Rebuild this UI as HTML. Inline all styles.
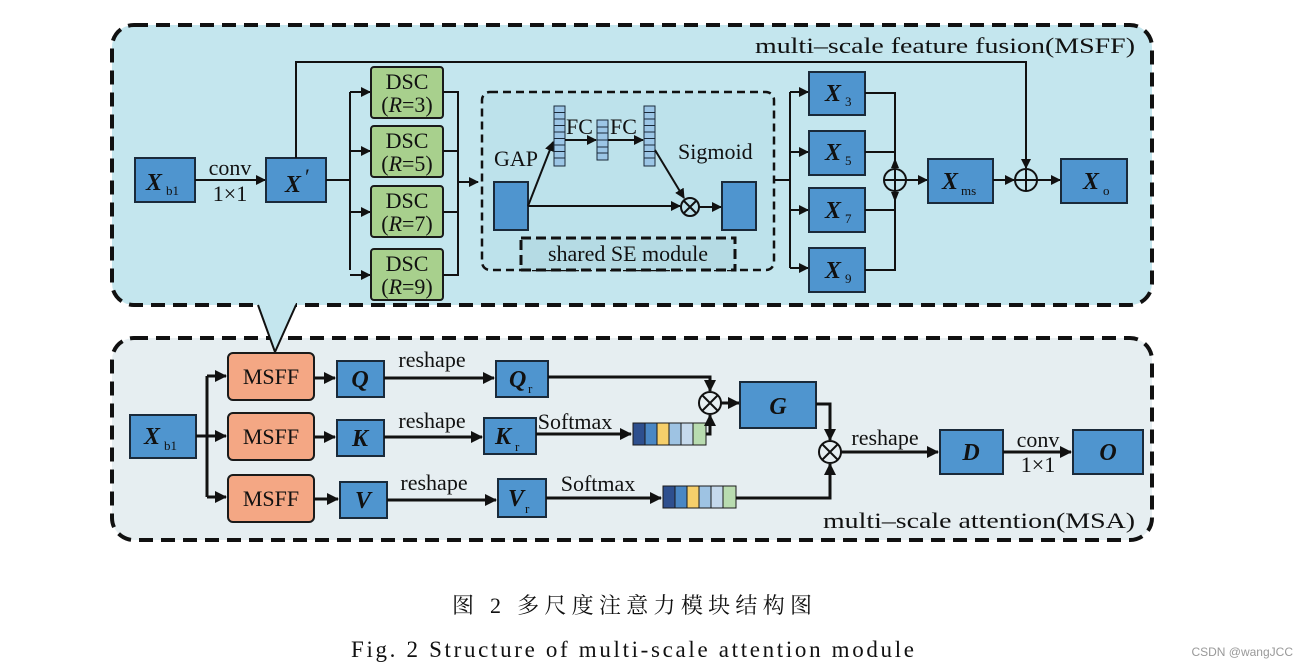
<!DOCTYPE html>
<html><head><meta charset="utf-8"><style>
html,body{margin:0;padding:0;background:#fff;width:1309px;height:669px;overflow:hidden}
svg{display:block}
text{font-family:"Liberation Serif",serif;fill:#111}
.lbl{font-size:22px}
.it{font-style:italic;font-weight:bold;font-size:24px}
.sub{font-size:13px}
.b{fill:#4f95cf;stroke:#1a2a3a;stroke-width:2}
.g{fill:#a8d08d;stroke:#1a1a1a;stroke-width:2}
.o{fill:#f4a784;stroke:#1a1a1a;stroke-width:2}
.l{fill:none;stroke:#111;stroke-width:2}
.l3{fill:none;stroke:#111;stroke-width:3}
</style></head><body>
<svg width="1309" height="669" viewBox="0 0 1309 669" xmlns="http://www.w3.org/2000/svg">
<defs>
<marker id="a" markerWidth="10" markerHeight="10" refX="9" refY="5" orient="auto" markerUnits="userSpaceOnUse"><path d="M0,0 L10,5 L0,10 Z" fill="#111"/></marker>
<marker id="a2" markerWidth="12" markerHeight="12" refX="11" refY="6" orient="auto" markerUnits="userSpaceOnUse"><path d="M0,0 L12,6 L0,12 Z" fill="#111"/></marker>
</defs>
<rect x="112" y="25" width="1040" height="280" rx="22" fill="#c4e6ee" stroke="#111" stroke-width="4" stroke-dasharray="14,8"/>
<rect x="112" y="338" width="1040" height="202" rx="22" fill="#e6eef1" stroke="#111" stroke-width="4" stroke-dasharray="14,8"/>
<polygon points="258,303 296,303 275,352" fill="#c4e6ee"/>
<path d="M258,305 L275,352 L296,305" class="l"/>
<text x="755" y="53" class="lbl" textLength="380" lengthAdjust="spacingAndGlyphs">multi–scale feature fusion(MSFF)</text>
<rect x="135" y="158" width="60" height="44" class="b"/>
<text x="146" y="190" class="it">X</text><text x="166" y="195" class="sub">b1</text>
<text x="230" y="175" class="lbl" text-anchor="middle">conv</text>
<text x="230" y="201" class="lbl" text-anchor="middle">1×1</text>
<line x1="195" y1="180" x2="265" y2="180" class="l" marker-end="url(#a)"/>
<rect x="266" y="158" width="60" height="44" class="b"/>
<text x="285" y="192" class="it">X</text><text x="305" y="184" class="lbl">′</text>
<path d="M296,158 V62 H1026 V168" class="l" marker-end="url(#a)"/>
<path d="M326,180 H350" class="l"/>
<path d="M350,92 V270" class="l"/>
<line x1="350" y1="92" x2="370" y2="92" class="l" marker-end="url(#a)"/>
<line x1="350" y1="151" x2="370" y2="151" class="l" marker-end="url(#a)"/>
<line x1="350" y1="212" x2="370" y2="212" class="l" marker-end="url(#a)"/>
<line x1="350" y1="275" x2="370" y2="275" class="l" marker-end="url(#a)"/>
<g>
<rect x="371" y="67" width="72" height="51" rx="3" class="g"/><text x="407" y="89" class="lbl" text-anchor="middle">DSC</text><text x="407" y="112" class="lbl" text-anchor="middle">(<tspan font-style="italic">R</tspan>=3)</text>
<rect x="371" y="126" width="72" height="51" rx="3" class="g"/><text x="407" y="148" class="lbl" text-anchor="middle">DSC</text><text x="407" y="171" class="lbl" text-anchor="middle">(<tspan font-style="italic">R</tspan>=5)</text>
<rect x="371" y="186" width="72" height="51" rx="3" class="g"/><text x="407" y="208" class="lbl" text-anchor="middle">DSC</text><text x="407" y="231" class="lbl" text-anchor="middle">(<tspan font-style="italic">R</tspan>=7)</text>
<rect x="371" y="249" width="72" height="51" rx="3" class="g"/><text x="407" y="271" class="lbl" text-anchor="middle">DSC</text><text x="407" y="294" class="lbl" text-anchor="middle">(<tspan font-style="italic">R</tspan>=9)</text>
</g>
<path d="M443,92 H458 V275 H443 M443,151 H458 M443,212 H458" class="l"/>
<line x1="458" y1="182" x2="478" y2="182" class="l" marker-end="url(#a)"/>
<rect x="482" y="92" width="292" height="178" rx="8" fill="#bde2eb" stroke="#111" stroke-width="2.5" stroke-dasharray="8,5"/>
<rect x="494" y="182" width="34" height="48" class="b"/>
<rect x="722" y="182" width="34" height="48" class="b"/>
<text x="494" y="166" class="lbl">GAP</text>
<text x="678" y="159" class="lbl">Sigmoid</text>
<line x1="528" y1="206" x2="553" y2="142" class="l" marker-end="url(#a)"/>
<line x1="528" y1="206" x2="680" y2="206" class="l" marker-end="url(#a)"/>
<g fill="#9cc6e6" stroke="#1a2a3a" stroke-width="1">
<rect x="554" y="106" width="11" height="60"/><rect x="597" y="120" width="11" height="40"/><rect x="644" y="106" width="11" height="60"/>
</g>
<g stroke="#1a2a3a" stroke-width="1">
<path d="M554,112.5H565M554,119H565M554,125.5H565M554,132H565M554,138.5H565M554,145H565M554,151.5H565M554,158H565"/>
<path d="M597,127H608M597,133H608M597,140H608M597,147H608M597,153H608"/>
<path d="M644,112.5H655M644,119H655M644,125.5H655M644,132H655M644,138.5H655M644,145H655M644,151.5H655M644,158H655"/>
</g>
<text x="566" y="134" class="lbl">FC</text><text x="610" y="134" class="lbl">FC</text>
<line x1="565" y1="140" x2="596" y2="140" class="l" marker-end="url(#a)"/>
<line x1="608" y1="140" x2="643" y2="140" class="l" marker-end="url(#a)"/>
<line x1="655" y1="150" x2="684" y2="198" class="l" marker-end="url(#a)"/>
<circle cx="690" cy="207" r="9" fill="none" stroke="#111" stroke-width="2"/>
<path d="M684,201 L696,213 M696,201 L684,213" stroke="#111" stroke-width="2"/>
<line x1="699" y1="207" x2="721" y2="207" class="l" marker-end="url(#a)"/>
<rect x="521" y="238" width="214" height="32" fill="#b5dbe4" stroke="#111" stroke-width="3" stroke-dasharray="10,5"/>
<text x="628" y="261" class="lbl" text-anchor="middle">shared SE module</text>
<path d="M774,180 H790 M790,92 V268" class="l"/>
<line x1="790" y1="92" x2="808" y2="92" class="l" marker-end="url(#a)"/>
<line x1="790" y1="152" x2="808" y2="152" class="l" marker-end="url(#a)"/>
<line x1="790" y1="210" x2="808" y2="210" class="l" marker-end="url(#a)"/>
<line x1="790" y1="268" x2="808" y2="268" class="l" marker-end="url(#a)"/>
<rect x="809" y="72" width="56" height="43" class="b"/><text x="825" y="101" class="it">X</text><text x="845" y="106" class="sub">3</text>
<rect x="809" y="131" width="56" height="44" class="b"/><text x="825" y="160" class="it">X</text><text x="845" y="165" class="sub">5</text>
<rect x="809" y="188" width="56" height="44" class="b"/><text x="825" y="218" class="it">X</text><text x="845" y="223" class="sub">7</text>
<rect x="809" y="248" width="56" height="44" class="b"/><text x="825" y="278" class="it">X</text><text x="845" y="283" class="sub">9</text>
<path d="M865,93 H895 V168 M865,152 H895 M865,210 H895 M865,270 H895 V192" class="l"/>
<path d="M895,158 L891,168 H899 Z M895,202 L891,192 H899 Z" fill="#111"/>
<circle cx="895" cy="180" r="11" fill="none" stroke="#111" stroke-width="2"/>
<path d="M884,180 H906 M895,169 V191" stroke="#111" stroke-width="2"/>
<line x1="906" y1="180" x2="927" y2="180" class="l" marker-end="url(#a)"/>
<rect x="928" y="159" width="65" height="44" class="b"/><text x="942" y="189" class="it">X</text><text x="961" y="195" class="sub">ms</text>
<line x1="993" y1="180" x2="1014" y2="180" class="l" marker-end="url(#a)"/>
<circle cx="1026" cy="180" r="11" fill="none" stroke="#111" stroke-width="2"/>
<path d="M1015,180 H1037 M1026,169 V191" stroke="#111" stroke-width="2"/>
<line x1="1037" y1="180" x2="1060" y2="180" class="l" marker-end="url(#a)"/>
<rect x="1061" y="159" width="66" height="44" class="b"/><text x="1083" y="189" class="it">X</text><text x="1103" y="195" class="sub">o</text>

<rect x="130" y="415" width="66" height="43" class="b"/><text x="144" y="444" class="it">X</text><text x="164" y="450" class="sub">b1</text>
<path d="M196,436 H207 M207,376 V497" class="l3"/>
<line x1="207" y1="376" x2="226" y2="376" class="l3" marker-end="url(#a2)"/>
<line x1="207" y1="436" x2="226" y2="436" class="l3" marker-end="url(#a2)"/>
<line x1="207" y1="497" x2="226" y2="497" class="l3" marker-end="url(#a2)"/>
<rect x="228" y="353" width="86" height="47" rx="5" class="o"/><text x="271" y="384" class="lbl" text-anchor="middle">MSFF</text>
<rect x="228" y="413" width="86" height="47" rx="5" class="o"/><text x="271" y="444" class="lbl" text-anchor="middle">MSFF</text>
<rect x="228" y="475" width="86" height="47" rx="5" class="o"/><text x="271" y="506" class="lbl" text-anchor="middle">MSFF</text>
<line x1="314" y1="378" x2="335" y2="378" class="l3" marker-end="url(#a2)"/>
<line x1="314" y1="437" x2="335" y2="437" class="l3" marker-end="url(#a2)"/>
<line x1="314" y1="499" x2="338" y2="499" class="l3" marker-end="url(#a2)"/>
<rect x="337" y="361" width="47" height="36" class="b"/><text x="360" y="387" class="it" text-anchor="middle">Q</text>
<rect x="337" y="420" width="47" height="36" class="b"/><text x="360" y="446" class="it" text-anchor="middle">K</text>
<rect x="340" y="482" width="47" height="36" class="b"/><text x="363" y="508" class="it" text-anchor="middle">V</text>
<text x="432" y="367" class="lbl" text-anchor="middle">reshape</text>
<text x="432" y="428" class="lbl" text-anchor="middle">reshape</text>
<text x="434" y="490" class="lbl" text-anchor="middle">reshape</text>
<line x1="384" y1="378" x2="494" y2="378" class="l3" marker-end="url(#a2)"/>
<line x1="384" y1="437" x2="482" y2="437" class="l3" marker-end="url(#a2)"/>
<line x1="387" y1="500" x2="496" y2="500" class="l3" marker-end="url(#a2)"/>
<rect x="496" y="361" width="52" height="36" class="b"/><text x="509" y="387" class="it">Q</text><text x="528" y="393" class="sub">r</text>
<rect x="484" y="418" width="52" height="36" class="b"/><text x="495" y="444" class="it">K</text><text x="515" y="451" class="sub">r</text>
<rect x="498" y="479" width="48" height="38" class="b"/><text x="508" y="506" class="it">V</text><text x="525" y="513" class="sub">r</text>
<text x="575" y="429" class="lbl" text-anchor="middle">Softmax</text>
<text x="598" y="491" class="lbl" text-anchor="middle">Softmax</text>
<line x1="536" y1="434" x2="631" y2="434" class="l3" marker-end="url(#a2)"/>
<line x1="546" y1="498" x2="661" y2="498" class="l3" marker-end="url(#a2)"/>
<g stroke="#1a1a1a" stroke-width="1">
<rect x="633" y="423" width="12" height="22" fill="#2e4f8e"/><rect x="645" y="423" width="12" height="22" fill="#4a87c4"/><rect x="657" y="423" width="12" height="22" fill="#f6cf6b"/><rect x="669" y="423" width="12" height="22" fill="#9ec3e3"/><rect x="681" y="423" width="12" height="22" fill="#c5d9ec"/><rect x="693" y="423" width="13" height="22" fill="#b9dcb0"/>
<rect x="663" y="486" width="12" height="22" fill="#2e4f8e"/><rect x="675" y="486" width="12" height="22" fill="#4a87c4"/><rect x="687" y="486" width="12" height="22" fill="#f6cf6b"/><rect x="699" y="486" width="12" height="22" fill="#9ec3e3"/><rect x="711" y="486" width="12" height="22" fill="#c5d9ec"/><rect x="723" y="486" width="13" height="22" fill="#b9dcb0"/>
</g>
<path d="M548,377 H710 V391" class="l3" marker-end="url(#a2)"/>
<path d="M706,434 H710 V415" class="l3" marker-end="url(#a2)"/>
<circle cx="710" cy="403" r="11" fill="#e6eef1" stroke="#111" stroke-width="2"/>
<path d="M702,395 L718,411 M718,395 L702,411" stroke="#111" stroke-width="2"/>
<line x1="721" y1="403" x2="739" y2="403" class="l3" marker-end="url(#a2)"/>
<rect x="740" y="382" width="76" height="46" class="b"/><text x="778" y="414" class="it" text-anchor="middle">G</text>
<path d="M816,404 H830 V440" class="l3" marker-end="url(#a2)"/>
<path d="M736,498 H830 V464" class="l3" marker-end="url(#a2)"/>
<circle cx="830" cy="452" r="11" fill="#e6eef1" stroke="#111" stroke-width="2"/>
<path d="M822,444 L838,460 M838,444 L822,460" stroke="#111" stroke-width="2"/>
<text x="885" y="445" class="lbl" text-anchor="middle">reshape</text>
<line x1="841" y1="452" x2="938" y2="452" class="l3" marker-end="url(#a2)"/>
<rect x="940" y="430" width="63" height="44" class="b"/><text x="971" y="460" class="it" text-anchor="middle">D</text>
<text x="1038" y="447" class="lbl" text-anchor="middle">conv</text>
<text x="1038" y="472" class="lbl" text-anchor="middle">1×1</text>
<line x1="1003" y1="452" x2="1071" y2="452" class="l3" marker-end="url(#a2)"/>
<rect x="1073" y="430" width="70" height="44" class="b"/><text x="1108" y="460" class="it" text-anchor="middle">O</text>
<text x="823" y="528" class="lbl" textLength="312" lengthAdjust="spacingAndGlyphs">multi–scale attention(MSA)</text>
<text x="452" y="613" font-size="22" textLength="360" lengthAdjust="spacing" style='font-family:"Liberation Serif","Noto Serif CJK SC",serif'>图 2  多尺度注意力模块结构图</text>
<text x="351" y="657" font-size="23" textLength="563" lengthAdjust="spacing" style='font-family:"Liberation Serif",serif'>Fig. 2  Structure of multi-scale attention module</text>
<text x="1293" y="656" font-size="12" text-anchor="end" style='font-family:"Liberation Sans",sans-serif;fill:#999'>CSDN @wangJCC</text>
</svg>
</body></html>
